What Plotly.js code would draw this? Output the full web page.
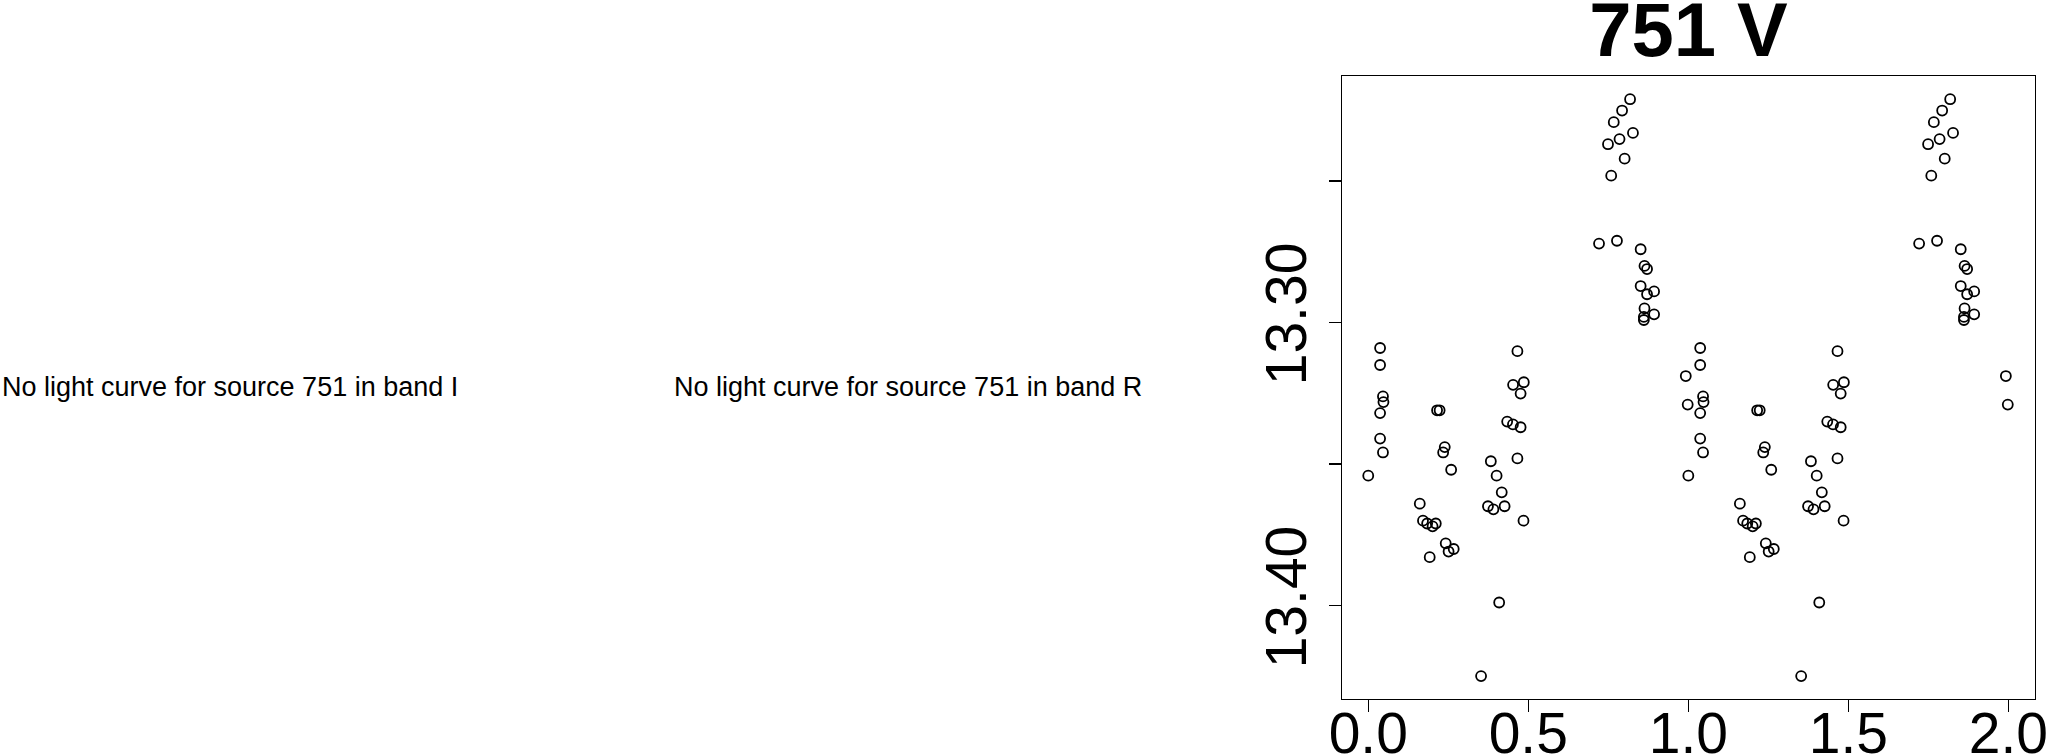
<!DOCTYPE html>
<html>
<head>
<meta charset="utf-8">
<script src="https://cdn.plot.ly/plotly-3.0.1.min.js"></script>
<style>
  html, body { margin: 0; padding: 0; background: #ffffff; }
  #chart { width: 2050px; height: 756px; }
</style>
</head>
<body>
<div id="chart"></div>
<script>
// Source 751, band V: phase-folded light curve (phase in [0,1), drawn twice)
const sourceId = "751";
const band = "V";
const missingBands = ["I", "R"];

const phase = [
  0.818, 0.793, 0.767, 0.827, 0.785, 0.749, 0.801, 0.759,
  0.721, 0.777, 0.851, 0.863, 0.871, 0.851, 0.871, 0.893,
  0.863, 0.861, 0.861, 0.893,
  0.037, 0.037, 0.466, 0.4525, 0.486, 0.992, 0.476, 0.046,
  0.0475, 0.037, 0.215, 0.223, 0.998, 0.434, 0.452, 0.476,
  0.037, 0.046, 0.239, 0.234, 0.383, 0.466, 0.000, 0.259,
  0.401, 0.417, 0.161, 0.374, 0.391, 0.426, 0.171, 0.184,
  0.201, 0.211, 0.485, 0.242, 0.251, 0.267, 0.192, 0.409,
  0.3525
];
const mag = [
  13.2211, 13.2251, 13.2292, 13.2330, 13.2352, 13.2370, 13.2421, 13.2481,
  13.2721, 13.2711, 13.2741, 13.2800, 13.2811, 13.2871, 13.2900, 13.2890,
  13.2950, 13.2980, 13.2991, 13.2971,
  13.3090, 13.3150, 13.3101, 13.3220, 13.3211, 13.3189, 13.3251, 13.3261,
  13.3281, 13.3320, 13.3310, 13.3310, 13.3290, 13.3350, 13.3360, 13.3370,
  13.3410, 13.3459, 13.3440, 13.3459, 13.3490, 13.3480, 13.3541, 13.3520,
  13.3541, 13.3600, 13.3640, 13.3649, 13.3660, 13.3649, 13.3700, 13.3710,
  13.3720, 13.3710, 13.3700, 13.3780, 13.3809, 13.3800, 13.3829, 13.3989,
  13.4249
];

const xTickVals = [0, 0.5, 1, 1.5, 2];
const xTickText = ["0.0", "0.5", "1.0", "1.5", "2.0"];
const yTickVals = [13.25, 13.30, 13.35, 13.40];
const yTickText = ["", "13.30", "", "13.40"];

// two cycles
const xs = phase.concat(phase.map(p => p + 1));
const ys = mag.concat(mag);

const W = 2050, H = 756;
const mL = 1342, mR = 15, mT = 76, mB = 57;
const pw = W - mL - mR, ph = H - mT - mB;
function px2paperX(px) { return (px - mL) / pw; }
function px2paperY(py) { return (H - mB - py) / ph; }

const FONT = "Liberation Sans, Arial, Helvetica, sans-serif";

const trace = {
  x: xs, y: ys, type: "scatter", mode: "markers",
  marker: { symbol: "circle-open", size: 10, color: "#000000", line: { width: 1.8, color: "#000000" } },
  hoverinfo: "x+y", showlegend: false
};

const textCenters = [229.5, 908];
const annotations = missingBands.map((b, i) => ({
  text: "No light curve for source " + sourceId + " in band " + b,
  xref: "paper", yref: "paper",
  x: px2paperX(textCenters[i]), y: px2paperY(387),
  xanchor: "center", yanchor: "middle", showarrow: false,
  font: { family: FONT, size: 27, color: "#000000" }
}));

const layout = {
  width: W, height: H,
  paper_bgcolor: "#ffffff", plot_bgcolor: "#ffffff",
  margin: { l: mL, r: mR, t: mT, b: mB, pad: 0 },
  font: { family: FONT, color: "#000000" },
  title: {
    text: sourceId + " " + band,
    font: { family: FONT, size: 76, weight: "bold", color: "#000000" },
    xref: "paper", x: 0.5, xanchor: "center",
    yref: "container", y: 1 - 29 / H, yanchor: "middle"
  },
  xaxis: {
    range: [-0.082, 2.083], tickmode: "array", tickvals: xTickVals, ticktext: xTickText,
    ticks: "outside", ticklen: 12, tickwidth: 1.2, tickcolor: "#000000",
    ticklabelstandoff: -28,
    showline: true, mirror: true, linecolor: "#000000", linewidth: 1.3,
    showgrid: false, zeroline: false,
    tickfont: { family: FONT, size: 57, color: "#000000" }
  },
  yaxis: {
    range: [13.4330, 13.2129], tickmode: "array", tickvals: yTickVals, ticktext: yTickText,
    tickangle: -90,
    ticks: "outside", ticklen: 12, tickwidth: 1.2, tickcolor: "#000000",
    showline: true, mirror: true, linecolor: "#000000", linewidth: 1.3,
    showgrid: false, zeroline: false,
    tickfont: { family: FONT, size: 57, color: "#000000" }
  },
  annotations: annotations
};

Plotly.newPlot("chart", [trace], layout, { displayModeBar: false, staticPlot: true });
</script>
</body>
</html>
